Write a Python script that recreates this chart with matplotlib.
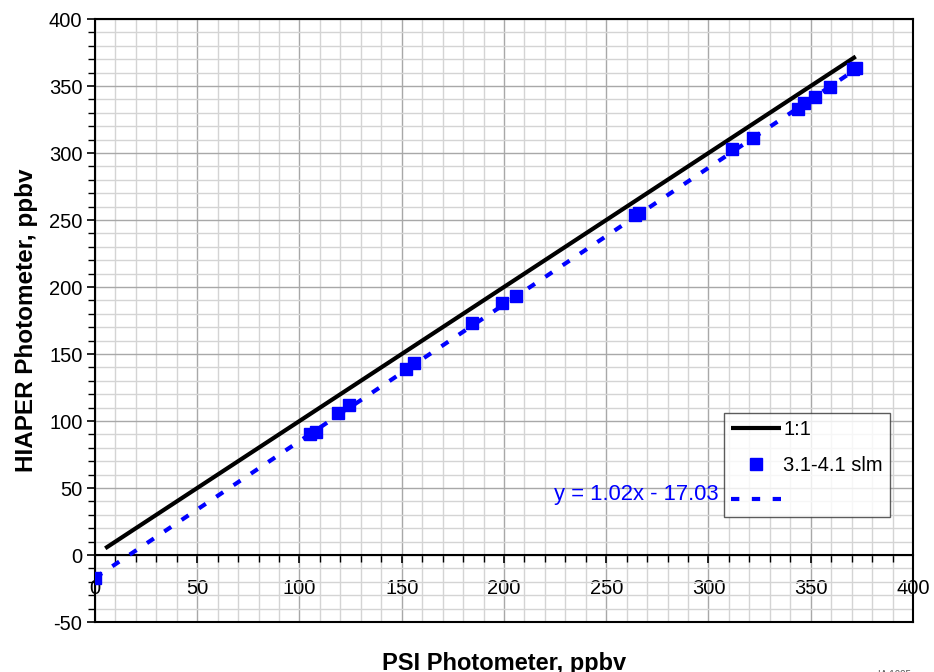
import numpy as np
import matplotlib.pyplot as plt
from matplotlib.ticker import MultipleLocator

# PSI vs HIAPER photometer readings (ppbv)
psi = [0, 105, 108, 119, 124, 152, 156, 184.5, 199, 206, 264, 266,
       311.5, 322, 344, 346.5, 352, 359.5, 370.5, 372]
hiaper = [-17, 90.5, 92, 106, 112, 139, 143.5, 173, 188, 193, 254, 255,
          303, 311.5, 333, 337.5, 342, 349.5, 363, 363.5]

one_to_one = [5, 372]
fit_x = [0, 372]
slope = 1.02
intercept = -17.03

plt.rcParams['font.family'] = ['Liberation Sans', 'DejaVu Sans']
plt.rcParams['axes.unicode_minus'] = False

fig = plt.figure(figsize=(9.34, 6.72), dpi=100)
ax = fig.add_axes([0.1017, 0.0744, 0.8758, 0.8973])

ax.set_xlim(0, 400)
ax.set_ylim(-50, 400)

# grid: light minor every 10, darker major every 50
ax.xaxis.set_major_locator(MultipleLocator(50))
ax.xaxis.set_minor_locator(MultipleLocator(10))
ax.yaxis.set_major_locator(MultipleLocator(50))
ax.yaxis.set_minor_locator(MultipleLocator(10))
ax.grid(which='minor', color='#d4d4d4', linewidth=1.0, zorder=0)
ax.grid(which='major', color='#a8a8a8', linewidth=1.0, zorder=0)
ax.set_axisbelow(True)

# x axis sits on y = 0, frame closed at -50 by hand
ax.spines['bottom'].set_position(('data', 0))
ax.axhline(-50, color='black', linewidth=1.5, clip_on=False, zorder=5)
for s in ['left', 'right', 'top', 'bottom']:
    ax.spines[s].set_linewidth(1.5)

ax.tick_params(which='major', direction='out', length=6, width=1.2,
               labelsize=14.5, pad=11)
ax.tick_params(axis='y', which='major', pad=3)
ax.tick_params(which='minor', direction='out', length=5, width=1.0)

ax.plot(one_to_one, one_to_one, color='black', linewidth=3,
        solid_capstyle='butt', label='1:1', zorder=3)
ax.plot(psi, hiaper, 's', color='#0000ff', markersize=9,
        label='3.1-4.1 slm', zorder=4)
fit_y = [slope * v + intercept for v in fit_x]
ax.plot(fit_x, fit_y, color='#0000ff', linewidth=3, dashes=(2, 3),
        label=' ', zorder=3)

ax.text(264.5, 45, 'y = 1.02x - 17.03', color='#0000ff', fontsize=15.8,
        ha='center', va='center')

leg = ax.legend(loc='upper left', bbox_to_anchor=(0.769, 0.3466),
                fontsize=14.5, frameon=True, fancybox=False, numpoints=1,
                handlelength=2.5, handletextpad=0.1, labelspacing=0.82,
                borderpad=0.35, borderaxespad=0)
leg.get_frame().set_edgecolor('#333333')
leg.get_frame().set_linewidth(1.0)

ax.set_xlabel('PSI Photometer, ppbv', fontsize=17, fontweight='bold')
ax.xaxis.set_label_coords(0.5, -0.05)
ax.set_ylabel('HIAPER Photometer, ppbv', fontsize=17.5, fontweight='bold')
ax.yaxis.set_label_coords(-0.07, 0.5)

fig.text(0.94, -0.004, 'IA 1025', fontsize=7, color='#555555',
         ha='left', va='center')

fig.savefig('out.png', dpi=100)
